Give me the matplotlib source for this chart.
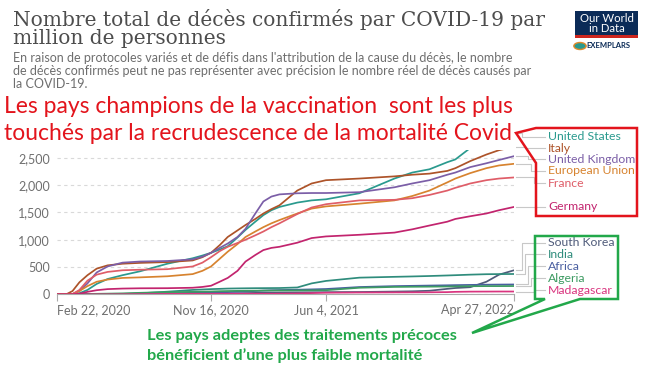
#!/usr/bin/env python3

import matplotlib
matplotlib.use('Agg')
import matplotlib.pyplot as plt
import matplotlib.patches as mpatches
import matplotlib.dates as mdates
from matplotlib.lines import Line2D
import pandas as pd


# -------------- #
# -- THE DATA -- #
# -------------- #

dates = pd.to_datetime([
    '2020-02-22', '2020-03-10', '2020-03-20', '2020-04-01', '2020-04-15',
    '2020-05-01', '2020-05-20', '2020-06-15', '2020-07-15', '2020-09-01',
    '2020-10-15', '2020-11-01', '2020-11-16', '2020-12-01', '2020-12-15',
    '2021-01-01', '2021-01-15', '2021-02-01', '2021-02-15', '2021-03-01',
    '2021-03-15', '2021-04-15', '2021-05-10', '2021-06-04', '2021-08-01',
    '2021-10-01', '2021-11-01', '2021-12-01', '2022-01-01', '2022-01-15',
    '2022-02-10', '2022-03-10', '2022-04-01', '2022-04-27',
])

united_states  = [0, 0, 2, 20, 80, 190, 280, 350, 420, 560, 660, 710, 760, 820, 880, 1040, 1180,
                  1330, 1450, 1540, 1600, 1680, 1720, 1740, 1850, 2120, 2230, 2290, 2420, 2470,
                  2680, 2850, 2920, 2950]
italy          = [0, 5, 60, 220, 350, 470, 530, 560, 575, 590, 620, 680, 760, 900, 1050, 1170, 1270,
                  1380, 1480, 1560, 1630, 1900, 2030, 2090, 2120, 2160, 2190, 2210, 2260, 2310,
                  2440, 2560, 2640, 2700]
united_kingdom = [0, 0, 5, 60, 200, 400, 510, 580, 600, 610, 640, 690, 760, 850, 930, 1050, 1200,
                  1480, 1700, 1790, 1830, 1850, 1855, 1855, 1870, 1960, 2030, 2090, 2190, 2230,
                  2330, 2400, 2460, 2530]
european_union = [0, 0, 5, 60, 150, 230, 270, 300, 310, 330, 370, 430, 510, 650, 780, 920, 1050,
                  1150, 1230, 1300, 1360, 1480, 1570, 1610, 1660, 1720, 1800, 1900, 2050, 2120,
                  2220, 2310, 2360, 2390]
france         = [0, 0, 5, 80, 250, 360, 410, 440, 450, 460, 510, 580, 680, 790, 870, 940, 1000,
                  1080, 1150, 1230, 1300, 1470, 1590, 1650, 1720, 1730, 1760, 1820, 1900, 1950,
                  2030, 2090, 2120, 2140]
germany        = [0, 0, 1, 10, 45, 75, 95, 105, 110, 112, 120, 135, 157, 230, 300, 430, 600,
                  720, 810, 850, 870, 945, 1030, 1060, 1090, 1130, 1190, 1260, 1330, 1380,
                  1430, 1480, 1540, 1600]
south_korea    = [0, 0, 1, 3, 4, 5, 5, 5, 6, 6, 8, 9, 9, 10, 11, 18, 22,
                  26, 29, 31, 33, 35, 37, 39, 42, 50, 55, 65, 100, 115,
                  130, 230, 360, 440]
india          = [0, 0, 0, 0, 0, 1, 2, 7, 18, 48, 80, 88, 95, 100, 105, 108, 110,
                  112, 113, 114, 115, 125, 200, 245, 305, 320, 327, 335, 345, 350,
                  360, 368, 370, 372]
africa         = [0, 0, 0, 0, 1, 2, 4, 6, 10, 20, 27, 30, 32, 36, 40, 46, 52,
                  60, 68, 74, 78, 84, 90, 97, 133, 150, 155, 160, 165, 168,
                  172, 176, 178, 180]
algeria        = [0, 0, 0, 1, 5, 9, 12, 17, 27, 40, 45, 48, 52, 57, 60, 63, 65,
                  66, 68, 69, 70, 71, 73, 75, 120, 135, 138, 140, 143, 145,
                  148, 150, 150, 151]
madagascar     = [0, 0, 0, 0, 0, 0, 0, 1, 3, 7, 9, 9, 9, 10, 10, 10, 10,
                  10, 10, 10, 11, 15, 22, 29, 33, 35, 36, 37, 40, 45,
                  49, 50, 51, 51]

top_names  = ['United States', 'Italy', 'United Kingdom', 'European Union', 'France', 'Germany']
top_values = [united_states, italy, united_kingdom, european_union, france, germany]
top_colors = ['#2a9a8e', '#ad5329', '#7b5ea7', '#d7832f', '#df5d68', '#c2246e']

low_names  = ['South Korea', 'India', 'Africa', 'Algeria', 'Madagascar']
low_values = [south_korea, india, africa, algeria, madagascar]
low_colors = ['#4f5b7a', '#2f8c7c', '#4a5fa0', '#3d9b62', '#d9347f']

y_ticks  = [0, 500, 1000, 1500, 2000, 2500]
x_ticks  = pd.to_datetime(['2020-02-22', '2020-11-16', '2021-06-04', '2022-04-27'])
x_labels = ['Feb 22, 2020', 'Nov 16, 2020', 'Jun 4, 2021', 'Apr 27, 2022']

title    = 'Nombre total de décès confirmés par COVID-19 par\nmillion de personnes'
subtitle = ("En raison de protocoles variés et de défis dans l'attribution de la cause du décès, le nombre\n"
            "de décès confirmés peut ne pas représenter avec précision le nombre réel de décès causés par\n"
            "la COVID-19.")
red_note   = 'Les pays champions de la vaccination  sont les plus\ntouchés par la recrudescence de la mortalité Covid'
green_note = 'Les pays adeptes des traitements précoces\nbénéficient d\u2019une plus faible mortalité'


# ------------ #
# -- LAYOUT -- #
# ------------ #

W, H = 650, 370

def fx(x):
    return x / W

def fy(y):
    return 1 - y / H

def pts(points):
    return [(fx(x), fy(y)) for x, y in points]


fig = plt.figure(figsize=(6.5, 3.7), dpi=100)
fig.patch.set_facecolor('white')

ax = fig.add_axes([fx(57), fy(294.3), fx(514) - fx(57), fy(130.5) - fy(294.3)])

for values, color in zip(low_values, low_colors):
    ax.plot(dates, values, color=color, linewidth=1.25, zorder=3)
for values, color in zip(top_values, top_colors):
    ax.plot(dates, values, color=color, linewidth=1.25, zorder=3)

ax.set_xlim(dates[0], dates[-1])
ax.set_ylim(0, 3000)

ax.set_yticks(y_ticks)
ax.set_yticklabels([f'{v:,}' for v in y_ticks])
ax.yaxis.grid(True, color='#d9d9d9', linestyle=(0, (3, 3)), linewidth=0.8)
ax.set_axisbelow(True)
ax.tick_params(axis='y', length=0, pad=5, labelsize=9, labelcolor='#6f6f6f')

ax.set_xticks(x_ticks)
ax.set_xticklabels(x_labels)
ax.tick_params(axis='x', length=5, color='#aaaaaa', pad=2, labelsize=9, labelcolor='#6f6f6f')
xt = ax.get_xticklabels()
xt[0].set_horizontalalignment('left')
xt[-1].set_horizontalalignment('right')

for side in ['top', 'right', 'left']:
    ax.spines[side].set_visible(False)
ax.spines['bottom'].set_color('#aaaaaa')
ax.spines['bottom'].set_linewidth(0.8)

for lab in ax.get_xticklabels() + ax.get_yticklabels():
    lab.set_family('Lato')


# -- labels with leader lines -- #

fig.canvas.draw()
to_px = ax.transData

def end_label(name, values, color, label_y, elbow_x):
    ex, ey = to_px.transform((mdates.date2num(dates[-1]), values[-1]))
    ey = H - ey
    fig.add_artist(Line2D(
        [fx(ex + 2), fx(elbow_x), fx(elbow_x), fx(545)],
        [fy(ey), fy(ey), fy(label_y), fy(label_y)],
        color='#c8c8c8', linewidth=0.8
    ))
    fig.text(fx(548), fy(label_y), name, color=color, fontsize=8.8,
             family='Lato', va='center', ha='left')

top_label_y = [137, 148, 159, 171, 183, 207]
low_label_y = [243, 254, 266, 278, 290]

for i, (n, v, c) in enumerate(zip(top_names, top_values, top_colors)):
    end_label(n, v, c, top_label_y[i], 522 + 3 * i)
for i, (n, v, c) in enumerate(zip(low_names, low_values, low_colors)):
    end_label(n, v, c, low_label_y[i], 522 + 3 * i)


# -- header -- #

fig.text(fx(13), fy(9), title, family='DejaVu Serif', fontsize=14.5,
         color='#4d4d4d', va='top', ha='left', linespacing=0.95)
fig.text(fx(13), fy(51.5), subtitle, family='Lato', fontsize=9,
         color='#6e6e6e', va='top', ha='left', linespacing=1.15)

# logo
fig.add_artist(mpatches.Rectangle((fx(575), fy(38)), fx(63), 27 / H,
               facecolor='#0b2b57', edgecolor='none', transform=fig.transFigure))
fig.add_artist(mpatches.Rectangle((fx(575), fy(38)), fx(63), 2.5 / H,
               facecolor='#ce261e', edgecolor='none', transform=fig.transFigure))
fig.text(fx(606.5), fy(23.5), 'Our World\nin Data', family='Lato', fontsize=8.2,
         color='white', ha='center', va='center', linespacing=0.95)
fig.add_artist(mpatches.Circle((fx(580), fy(46)), 3.5 / H, facecolor='#2a9a8e',
               edgecolor='#e08a2a', linewidth=1, transform=fig.transFigure))
fig.text(fx(586), fy(46), 'EXEMPLARS', family='Lato', fontsize=5.5, weight='bold',
         color='#0b2b57', ha='left', va='center')


# -- red annotation -- #

fig.add_artist(mpatches.Rectangle((0, fy(150)), fx(516), 58 / H, facecolor='white',
               edgecolor='none', transform=fig.transFigure, zorder=5))
fig.text(fx(4), fy(120), red_note, family='Lato', fontsize=16.5, color='#e3141c',
         ha='left', va='center', linespacing=1.3, zorder=6)
fig.add_artist(mpatches.Polygon(
    pts([(536, 128), (637, 128), (637, 216), (536, 216), (536, 163), (516, 133)]),
    closed=True, fill=False, edgecolor='#e3141c', linewidth=1.8,
    transform=fig.transFigure, zorder=6
))


# -- green annotation -- #

fig.add_artist(mpatches.Polygon(
    pts([(535, 236), (618, 236), (618, 299), (580, 299), (472, 333), (545, 299), (535, 299)]),
    closed=True, fill=False, edgecolor='#22a84a', linewidth=1.8,
    transform=fig.transFigure, zorder=6
))
fig.text(fx(147), fy(346), green_note, family='Lato', fontsize=11.8, weight='bold',
         color='#22a84a', ha='left', va='center', linespacing=1.45, zorder=6)

fig.savefig('out.png', dpi=100, facecolor='white')
